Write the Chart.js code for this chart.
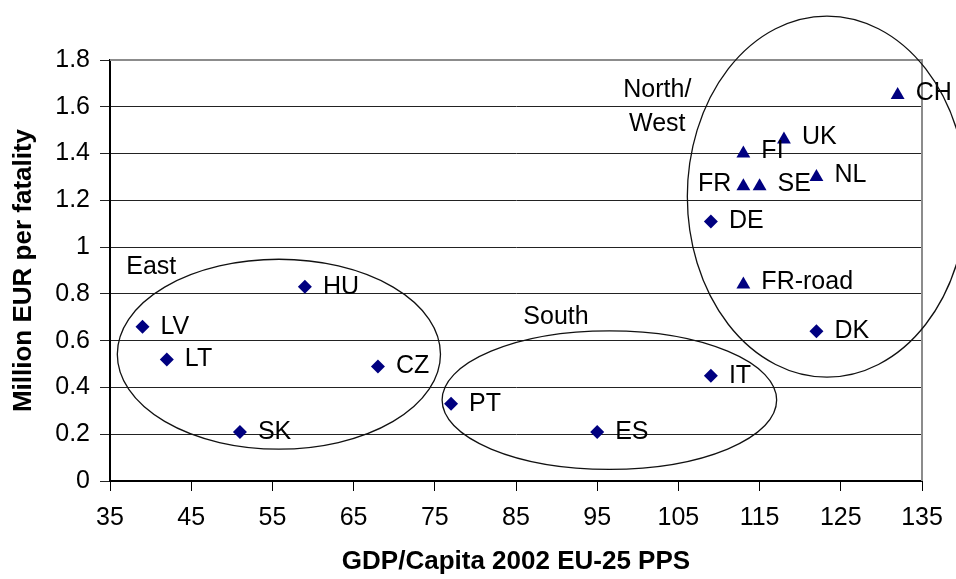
<!DOCTYPE html>
<html>
<head>
<meta charset="utf-8">
<title>Million EUR per fatality vs GDP/Capita</title>
<script src="https://cdn.jsdelivr.net/npm/chart.js@4.4.1/dist/chart.umd.min.js"></script>
<style>
  html, body { margin: 0; padding: 0; background: #fff; }
  #wrap { width: 956px; height: 579px; }
</style>
</head>
<body>
<div id="wrap"><canvas id="myChart"></canvas></div>
<script>
// countries drawn as diamonds
const diamondNames = ['LV', 'LT', 'SK', 'HU', 'CZ', 'PT', 'ES', 'IT', 'DE', 'DK'];
const diamondGdp   = [39, 42, 51, 59, 68, 77, 95, 109, 109, 122];
const diamondValue = [0.66, 0.52, 0.21, 0.83, 0.49, 0.33, 0.21, 0.45, 1.11, 0.64];

// countries drawn as triangles
const triangleNames = ['FR-road', 'FR', 'SE', 'FI', 'UK', 'NL', 'CH'];
const triangleGdp   = [113, 113, 115, 113, 118, 122, 132];
const triangleValue = [0.84, 1.26, 1.26, 1.40, 1.46, 1.30, 1.65];

const xTicks = [35, 45, 55, 65, 75, 85, 95, 105, 115, 125, 135];
const yTicks = [0, 0.2, 0.4, 0.6, 0.8, 1, 1.2, 1.4, 1.6, 1.8];

const groupNames = ['East', 'South', 'North/West'];

// ellipses round the groups, in axis units
const groupShapes = [
  {cx: 55.8, cy: 0.542, rx: 19.9, ry: 0.406, tx: 37.0, ty: [0.915], align: 'left', lines: ['East']},
  {cx: 96.5, cy: 0.346, rx: 20.6, ry: 0.296, tx: 85.9, ty: [0.70], align: 'left', lines: ['South']},
  {cx: 123.3, cy: 1.216, rx: 17.2, ry: 0.772, tx: 102.4, ty: [1.672, 1.526], align: 'center', lines: ['North/', 'West']}
];

const FONT = '"Liberation Sans", Arial, sans-serif';
const NAVY = '#000080';

function toPoints(xs, ys) {
  return xs.map((v, i) => ({x: v, y: ys[i]}));
}

const annotate = {
  id: 'annotate',
  beforeDatasetsDraw(chart) {
    const {ctx, chartArea: a} = chart;
    ctx.save();
    ctx.strokeStyle = '#8c8c8c';
    ctx.lineWidth = 2;
    ctx.beginPath();
    ctx.moveTo(a.left, a.top);
    ctx.lineTo(a.right, a.top);
    ctx.lineTo(a.right, a.bottom);
    ctx.stroke();
    ctx.restore();
  },
  afterDatasetsDraw(chart) {
    const {ctx, scales: {x, y}} = chart;
    ctx.save();
    ctx.fillStyle = '#000';
    ctx.font = '25px ' + FONT;
    ctx.textBaseline = 'middle';

    const names = [diamondNames, triangleNames];
    [0, 1].forEach(d => {
      chart.getDatasetMeta(d).data.forEach((pt, j) => {
        const name = names[d][j];
        const ly = d === 1 ? pt.y - 2 : pt.y;
        if (name === 'FR') {
          ctx.textAlign = 'right';
          ctx.fillText(name, pt.x - 12, ly);
        } else {
          ctx.textAlign = 'left';
          ctx.fillText(name, pt.x + 18, ly);
        }
      });
    });

    // group ellipses and names
    ctx.strokeStyle = '#111';
    ctx.lineWidth = 1.3;
    groupShapes.forEach(g => {
      const px = x.getPixelForValue(g.cx);
      const py = y.getPixelForValue(g.cy);
      const rx = Math.abs(x.getPixelForValue(g.cx + g.rx) - px);
      const ry = Math.abs(y.getPixelForValue(g.cy + g.ry) - py);
      ctx.beginPath();
      ctx.ellipse(px, py, rx, ry, 0, 0, Math.PI * 2);
      ctx.stroke();
      ctx.textAlign = g.align;
      g.lines.forEach((t, k) => {
        ctx.fillText(t, x.getPixelForValue(g.tx), y.getPixelForValue(g.ty[k]));
      });
    });
    ctx.restore();
  }
};

new Chart(document.getElementById('myChart'), {
  type: 'scatter',
  data: {
    datasets: [{
      label: 'diamonds',
      data: toPoints(diamondGdp, diamondValue),
      pointStyle: 'rectRot',
      pointRadius: 7,
      backgroundColor: NAVY,
      borderColor: NAVY,
      borderWidth: 0
    }, {
      label: 'triangles',
      data: toPoints(triangleGdp, triangleValue),
      pointStyle: 'triangle',
      pointRadius: 8,
      backgroundColor: NAVY,
      borderColor: NAVY,
      borderWidth: 0
    }]
  },
  options: {
    responsive: true,
    maintainAspectRatio: false,
    animation: false,
    clip: false,
    layout: { padding: { top: 60, right: 34, left: 0, bottom: 0 } },
    plugins: { legend: { display: false }, tooltip: { enabled: false } },
    scales: {
      x: {
        type: 'linear',
        min: 35,
        max: 135,
        afterFit: s => { s.height = 98; },
        afterBuildTicks: s => { s.ticks = xTicks.map(v => ({value: v})); },
        ticks: { color: '#000', font: { family: FONT, size: 25 }, padding: 12, maxRotation: 0, autoSkip: false },
        grid: { drawOnChartArea: false, color: '#000', tickLength: 10 },
        border: { color: '#000', width: 2 },
        title: {
          display: true,
          text: 'GDP/Capita 2002 EU-25 PPS',
          color: '#000',
          font: { family: FONT, size: 26, weight: 'bold' },
          padding: { top: 0, bottom: 2 }
        }
      },
      y: {
        min: 0,
        max: 1.8,
        afterFit: s => { s.width = 110; },
        afterBuildTicks: s => { s.ticks = yTicks.map(v => ({value: v})); },
        ticks: { color: '#000', font: { family: FONT, size: 25 }, padding: 10, callback: v => String(+v.toFixed(1)) },
        grid: { color: '#222', lineWidth: 1, tickLength: 10 },
        border: { color: '#000', width: 2 },
        title: {
          display: true,
          text: 'Million EUR per fatality',
          color: '#000',
          font: { family: FONT, size: 26, weight: 'bold' },
          padding: { top: 8, bottom: 0 }
        }
      }
    }
  },
  plugins: [annotate]
});
</script>
</body>
</html>
